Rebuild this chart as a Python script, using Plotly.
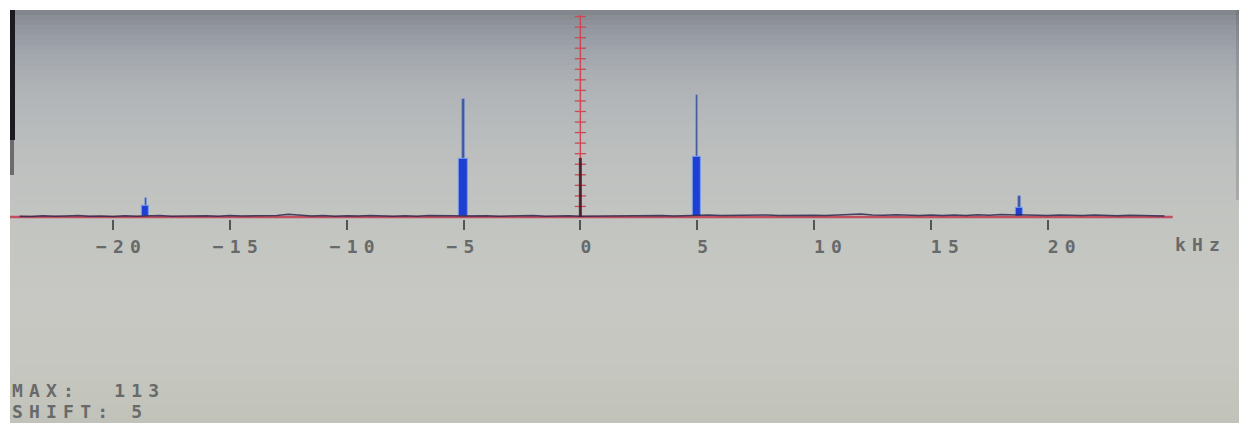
import plotly.graph_objects as go

# ---------------- data ----------------
tick_vals = [-20, -15, -10, -5, 0, 5, 10, 15, 20]
tick_labels = ["−20", "−15", "−10", "−5", "0", "5", "10", "15", "20"]

# spectral lines (kHz) : tall thin centre bin and the wider body around it
peak_freq = [-18.6, -5.0, 5.0, 18.8]
peak_line = [18, 112, 116, 20]
peak_body = [10, 55, 57, 8.5]

# DC component
dc_freq = [0.0]
dc_level = [56]

# noise floor along the baseline (every 0.5 kHz from -24 to 25 kHz)
noise_freq = [round(-24.0 + 0.5 * i, 1) for i in range(99)]
noise_level = [
    0.8, 0.5, 1.2, 0.6, 0.9, 1.4, 0.7, 1.0, 0.5, 1.1, 0.8,
    0.9, 1.3, 0.6, 1.0, 0.7, 1.2, 0.8, 1.5, 0.9, 1.1, 0.7, 1.4,
    2.6, 1.6, 1.0, 1.3, 0.8, 1.2, 0.9, 1.4, 1.0, 0.7,
    1.1, 0.8, 1.3, 0.9, 1.2,
    1.0, 1.4, 1.1, 0.8, 1.2, 0.9, 1.3, 0.7, 1.0, 1.2, 0.8,
    0.9, 1.1, 0.7, 1.2, 0.8, 1.0, 1.3, 0.9, 1.4, 1.5,
    1.8, 1.4, 1.6, 1.2, 1.5, 1.9, 1.3, 1.6, 1.2, 1.7,
    1.5, 1.9, 2.4, 2.8, 2.0, 1.6, 2.2, 1.7, 1.4, 1.8,
    1.3, 1.9, 1.5, 2.1, 1.6, 2.3, 2.0, 1.4, 1.8, 1.5,
    2.0, 1.6, 1.3, 1.8, 1.5, 1.2, 1.7, 1.4, 1.1, 1.0,
]

amp_ticks = list(range(10, 200, 10))
amp_axis_top = 191.5
baseline_span = [-24.41, 25.35]

max_value = 113
shift_value = 5
unit_label = "kHz"

# ---------------- style ----------------
OFF = 8                      # the page body margin shifts the figure by 8 px
IMG_W, IMG_H = 1247, 423
W, H = IMG_W - OFF, IMG_H - OFF
SCREEN_L, SCREEN_T, PLOT_B = 10, 10, 219   # in page pixels
ML, MR, MT = SCREEN_L - OFF, 0, SCREEN_T - OFF
MB = IMG_H - PLOT_B
PLOT_W = W - ML - MR
PLOT_H = H - MT - MB
X_RANGE = [-24.41, 28.53]
Y_RANGE = [-1.9, 196.2]

FONT = "DejaVu Sans Mono"
TXT = "#686a6a"
LS = 6.2  # letter spacing to mimic the wide bitmap font
RED = "#cf4753"
NB = "\u00a0"

body_width = [0.28, 0.38, 0.34, 0.30]
line_width = [0.10, 0.11, 0.11, 0.10]


def spaced(t):
    return f'<span style="letter-spacing:{LS}px">{t}</span>'


def tick_text(lbl):
    neg = lbl.startswith("−")
    digits = lbl.lstrip("−")
    left = 1 if neg else 0
    right = len(digits)
    if right > left:
        lbl = NB * (right - left) + lbl
    elif left > right:
        lbl = lbl + NB * (left - right)
    return spaced(lbl)


def px_x(p):  # page pixel -> paper
    return (p - SCREEN_L) / PLOT_W


def px_y(p):
    return (PLOT_B - p) / PLOT_H


def hex_rgb(h):
    h = h.lstrip("#")
    return tuple(int(h[i:i + 2], 16) for i in (0, 2, 4))


stops = [(10, "#74767c"), (13, "#868990"), (28, "#92969e"), (50, "#a0a4ab"),
         (80, "#adb1b5"), (120, "#b7babb"), (170, "#bec1bf"), (230, "#c3c5c1"),
         (300, "#c7c8c3"), (360, "#c6c7c0"), (423, "#c1c2b9")]


def color_at(y):
    for (y0, c0), (y1, c1) in zip(stops[:-1], stops[1:]):
        if y0 <= y <= y1:
            t = (y - y0) / (y1 - y0)
            a, b = hex_rgb(c0), hex_rgb(c1)
            return "rgb(%d,%d,%d)" % tuple(round(a[i] + (b[i] - a[i]) * t) for i in range(3))
    return stops[-1][1]


shapes = []
y = SCREEN_T
while y < IMG_H:
    y2 = min(y + 5, IMG_H)
    shapes.append(dict(type="rect", xref="paper", yref="paper", layer="below",
                       x0=px_x(SCREEN_L), x1=px_x(IMG_W + 2), y0=px_y(y2 + 0.5), y1=px_y(y),
                       fillcolor=color_at((y + y2) / 2), line=dict(width=0)))
    y = y2
# dark bezel at the top-left
shapes.append(dict(type="rect", xref="paper", yref="paper", layer="below",
                   x0=px_x(10), x1=px_x(15), y0=px_y(140), y1=px_y(10),
                   fillcolor="#1c1c20", line=dict(width=0)))
shapes.append(dict(type="rect", xref="paper", yref="paper", layer="below",
                   x0=px_x(10), x1=px_x(14), y0=px_y(175), y1=px_y(140),
                   fillcolor="#6a6c6e", line=dict(width=0)))
# slightly darker strip at the right edge of the screen
shapes.append(dict(type="rect", xref="paper", yref="paper", layer="below",
                   x0=px_x(1236), x1=px_x(1239), y0=px_y(200), y1=px_y(10),
                   fillcolor="rgba(90,90,90,0.25)", line=dict(width=0)))

fig = go.Figure()

# spectral centre lines, then the bodies over them
fig.add_trace(go.Bar(x=peak_freq, y=peak_line, width=line_width,
                     marker=dict(color="#44589c",
                                 line=dict(color="rgba(140,170,235,0.6)", width=0.8)),
                     hoverinfo="skip"))
fig.add_trace(go.Bar(x=peak_freq, y=peak_body, width=body_width,
                     marker=dict(color="#1f3fd4",
                                 line=dict(color="rgba(120,160,240,0.75)", width=1.2)),
                     hoverinfo="skip"))

# red baseline
fig.add_trace(go.Scatter(x=baseline_span, y=[0, 0], mode="lines",
                         line=dict(color="#c0505e", width=2.5), hoverinfo="skip"))
# noise floor
fig.add_trace(go.Scatter(x=noise_freq, y=noise_level, mode="lines",
                         line=dict(color="#2f2a52", width=1.5), opacity=0.85,
                         hoverinfo="skip"))
# vertical red amplitude axis with cross ticks
fig.add_trace(go.Scatter(x=[0, 0], y=[0, amp_axis_top], mode="lines",
                         line=dict(color=RED, width=1.5), hoverinfo="skip"))
fig.add_trace(go.Scatter(x=[0] * len(amp_ticks), y=amp_ticks, mode="markers",
                         marker=dict(symbol="line-ew", size=8,
                                     line=dict(color=RED, width=1.3)),
                         hoverinfo="skip"))
# DC line
for f, v in zip(dc_freq, dc_level):
    fig.add_trace(go.Scatter(x=[f, f], y=[0, v], mode="lines",
                             line=dict(color="#3a1c2c", width=3), opacity=0.85,
                             hoverinfo="skip"))

txt_font = dict(family=FONT, size=18, color=TXT, weight="bold")
annotations = [
    dict(x=baseline_span[1], y=0, xref="x", yref="y", xanchor="left",
         yanchor="middle", yshift=-27, showarrow=False, text=spaced(unit_label),
         font=txt_font),
    dict(x=0, y=px_y(390), xref="paper", yref="paper", xanchor="left",
         yanchor="middle", showarrow=False,
         text=spaced(f"MAX:{NB}{NB}{max_value}"), font=txt_font),
    dict(x=0, y=px_y(411), xref="paper", yref="paper", xanchor="left",
         yanchor="middle", showarrow=False,
         text=spaced(f"SHIFT:{NB}{shift_value}"), font=txt_font),
]

fig.update_layout(
    width=W, height=H,
    margin=dict(l=ML, r=MR, t=MT, b=MB, pad=0),
    paper_bgcolor="white",
    plot_bgcolor="rgba(0,0,0,0)",
    showlegend=False,
    barmode="overlay",
    bargap=0,
    shapes=shapes,
    annotations=annotations,
    xaxis=dict(range=X_RANGE, showgrid=False, zeroline=False, showline=False,
               ticks="outside", ticklen=10, tickwidth=2, tickcolor="#525554",
               tickvals=tick_vals, ticktext=[tick_text(t) for t in tick_labels],
               tickfont=txt_font,
               ticklabelstandoff=1, fixedrange=True),
    yaxis=dict(range=Y_RANGE, visible=False, fixedrange=True),
)

fig.write_html("out.html")
